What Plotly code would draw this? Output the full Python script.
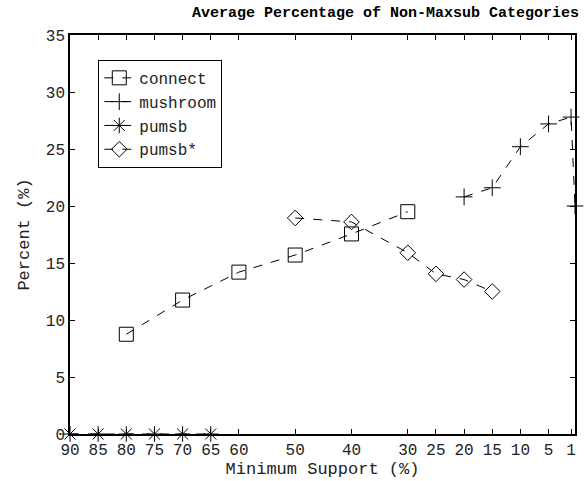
import plotly.graph_objects as go

# Data
connect_x = [80, 70, 60, 50, 40, 30]
connect_y = [8.75, 11.75, 14.2, 15.7, 17.55, 19.5]

mushroom_x = [20, 15, 10, 5, 1, 0.3]
mushroom_y = [20.8, 21.6, 25.2, 27.2, 27.8, 20.0]

pumsb_x = [90, 85, 80, 75, 70, 65]
pumsb_y = [0, 0, 0, 0, 0, 0]

pumsbstar_x = [50, 40, 30, 25, 20, 15]
pumsbstar_y = [18.95, 18.6, 15.9, 14.05, 13.55, 12.5]

x_ticks = [90, 85, 80, 75, 70, 65, 60, 50, 40, 30, 25, 20, 15, 10, 5, 1]
y_ticks = [0, 5, 10, 15, 20, 25, 30, 35]

FONT = "Liberation Mono"
dash = "9px,9px"

fig = go.Figure()

def add(name, xs, ys, symbol, size):
    fig.add_trace(go.Scatter(
        x=xs, y=ys, name=name, mode="lines+markers",
        line=dict(color="black", width=1, dash=dash),
        marker=dict(symbol=symbol, size=size, color="black",
                    line=dict(color="black", width=1)),
        cliponaxis=False,
    ))

add("connect", connect_x, connect_y, "square-open", 14)
add("mushroom", mushroom_x, mushroom_y, "cross-thin-open", 12)
add("pumsb", pumsb_x, pumsb_y, "asterisk-open", 13)
add("pumsb*", pumsbstar_x, pumsbstar_y, "diamond-open", 12)

axis_common = dict(
    showline=True, linecolor="black", linewidth=1.5, mirror="ticks",
    ticks="inside", ticklen=5, tickcolor="black", tickwidth=1,
    showgrid=False, zeroline=False,
    tickfont=dict(family=FONT, size=16, color="#222"),
)

fig.update_layout(
    width=584, height=481,
    margin=dict(l=70, r=7, t=35, b=46),
    paper_bgcolor="white", plot_bgcolor="white",
    title=dict(text="<b>Average Percentage of Non-Maxsub Categories</b>",
               x=0.66, xref="container", xanchor="center",
               y=0.975, yref="container", yanchor="middle",
               font=dict(family=FONT, size=15, color="black")),
    xaxis=dict(range=[90, 0.3], tickvals=x_ticks,
               ticktext=[str(v) for v in x_ticks],
               title=dict(text="Minimum Support (%)",
                          font=dict(family=FONT, size=17, color="#222"),
                          standoff=2),
               **axis_common),
    yaxis=dict(range=[0, 35], tickvals=y_ticks,
               title=dict(text="Percent (%)",
                          font=dict(family=FONT, size=17, color="#222"),
                          standoff=12),
               **axis_common),
    legend=dict(x=0.056, y=0.9375, xanchor="left", yanchor="top",
                bgcolor="white", bordercolor="black", borderwidth=1,
                font=dict(family=FONT, size=16, color="#222"),
                tracegroupgap=0),
    showlegend=True,
)

fig.write_html("out.html")
